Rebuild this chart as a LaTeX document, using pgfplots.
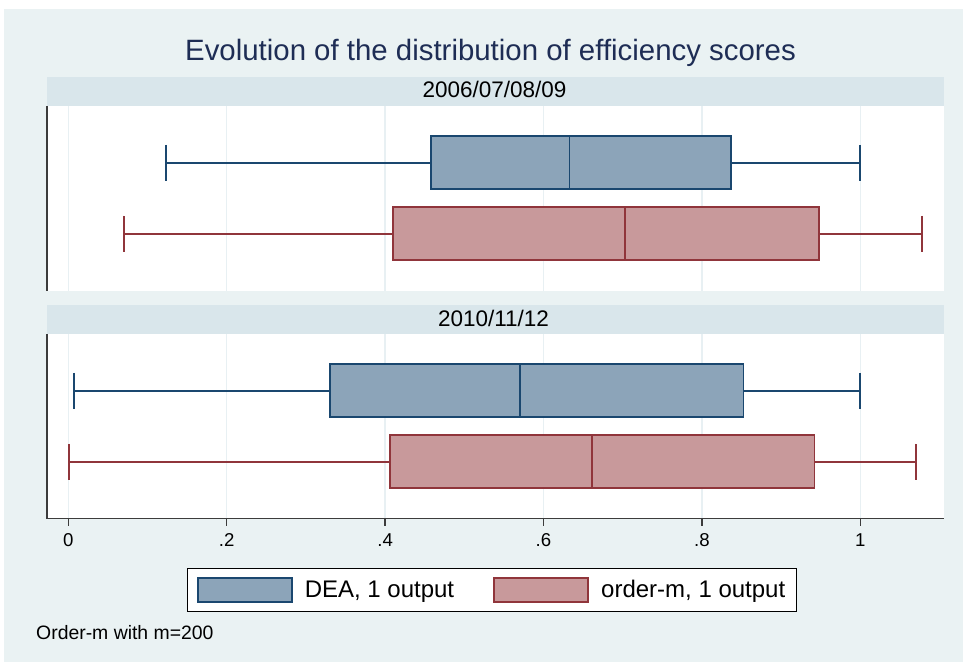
\documentclass[border=0pt]{standalone}
\usepackage{fontspec}
\setmainfont{Liberation Sans}
\usepackage{pgfplots}
\pgfplotsset{compat=1.18}
\usepgfplotslibrary{statistics}

\definecolor{bg}{RGB}{234,242,243}
\definecolor{hdr}{RGB}{217,230,235}
\definecolor{ttl}{RGB}{30,45,85}
\definecolor{navy}{RGB}{26,71,111}
\definecolor{navyfill}{RGB}{140,164,185}
\definecolor{maroon}{RGB}{144,53,59}
\definecolor{maroonfill}{RGB}{200,153,155}
\definecolor{gridc}{RGB}{232,240,243}
\definecolor{axc}{RGB}{60,60,60}

\tikzset{
  dea/.style={draw=navy, fill=navyfill, line width=1.6pt},
  om/.style={draw=maroon, fill=maroonfill, line width=1.6pt},
}
\pgfplotsset{
  /pgfplots/boxplot/every whisker/.style={/tikz/line width=2pt},
  /pgfplots/boxplot/every median/.style={/tikz/line width=1.6pt},
  panel/.style={
    scale only axis, width=896.5pt, height=185pt,
    xmin=-0.0269, xmax=1.1051, ymin=0, ymax=185,
    anchor=south west,
    axis background/.style={fill=white},
    xtick={0,0.2,0.4,0.6,0.8,1}, ytick=\empty,
    xmajorgrids, major grid style={gridc, line width=1.5pt},
    axis x line*=bottom, axis y line*=left,
    y axis line style={axc, line width=1.5pt},
    boxplot/draw direction=x,
  },
  bx/.style={boxplot/every whisker/.style={/tikz/line width=2pt}},
}

\begin{document}
\begin{tikzpicture}
\useasboundingbox (0pt,0pt) rectangle (965pt,-662pt);
\fill[white] (0pt,0pt) rectangle (965pt,-662pt);
\fill[bg] (4pt,-9pt) rectangle (963pt,-662pt);

% title
\node[anchor=base, text=ttl, font=\fontsize{29.4}{32}\selectfont, inner sep=0pt] at (490.5pt,-60pt) {Evolution of the distribution of efficiency scores};

% headers
\fill[hdr] (47pt,-77pt) rectangle (943.5pt,-105.5pt);
\node[anchor=base, font=\fontsize{22.5}{25}\selectfont, inner sep=0pt] at (494.5pt,-97pt) {2006/07/08/09};
\fill[hdr] (47pt,-305pt) rectangle (943.5pt,-333.5pt);
\node[anchor=base, font=\fontsize{22.5}{25}\selectfont, inner sep=0pt] at (493.5pt,-326.7pt) {2010/11/12};

% top panel
\begin{axis}[panel, at={(47pt,-290.5pt)},
  x axis line style={draw=none}, xtick style={draw=none}, xticklabels={}]
\addplot[dea, bx, boxplot prepared={lower whisker=0.1234, lower quartile=0.458, median=0.6326, upper quartile=0.8367, upper whisker=1.0, draw position=128, box extend=53, whisker extend=36}] coordinates {};
\addplot[om, bx, boxplot prepared={lower whisker=0.0703, lower quartile=0.410, median=0.703, upper quartile=0.948, upper whisker=1.0783, draw position=57, box extend=53, whisker extend=36}] coordinates {};
\end{axis}

% bottom panel
\begin{axis}[panel, at={(47pt,-518.5pt)},
  x axis line style={axc, line width=1.5pt},
  tick align=outside, major tick length=7pt,
  xtick style={axc, line width=1.5pt},
  xticklabels={0,.2,.4,.6,.8,1},
  xticklabel style={font=\fontsize{18.6}{20}\selectfont, black, anchor=north, inner sep=0pt, yshift=-8pt},
  legend columns=2,
  legend style={at={(0.4964,-0.3865)}, anchor=center, draw=black, line width=1pt, fill=white,
    font=\fontsize{24}{28}\selectfont, inner xsep=4.4pt, inner ysep=9pt,
    nodes={inner xsep=7pt, inner ysep=0pt},
    /tikz/every even column/.append style={column sep=27pt}},
  legend cell align=left,
]
\addlegendimage{legend image code/.code={\path[draw=none,fill=none] (0pt,0pt) -- (106pt,0pt); \draw[dea] (6pt,-12pt) rectangle (100pt,12pt);}}
\addlegendentry{DEA, 1 output}
\addlegendimage{legend image code/.code={\path[draw=none,fill=none] (0pt,0pt) -- (106pt,0pt); \draw[om] (6pt,-12pt) rectangle (100pt,12pt);}}
\addlegendentry{order-m, 1 output\hspace{28pt}}
\addplot[dea, bx, forget plot, boxplot prepared={lower whisker=0.0072, lower quartile=0.3304, median=0.570, upper quartile=0.8523, upper whisker=1.0, draw position=128, box extend=53, whisker extend=36}] coordinates {};
\addplot[om, bx, forget plot, boxplot prepared={lower whisker=0.001, lower quartile=0.406, median=0.661, upper quartile=0.942, upper whisker=1.070, draw position=57, box extend=53, whisker extend=36}] coordinates {};
\end{axis}

% note
\node[anchor=base west, font=\fontsize{19.4}{22}\selectfont, inner sep=0pt] at (36pt,-639.3pt) {Order-m with m=200};
\end{tikzpicture}
\end{document}
